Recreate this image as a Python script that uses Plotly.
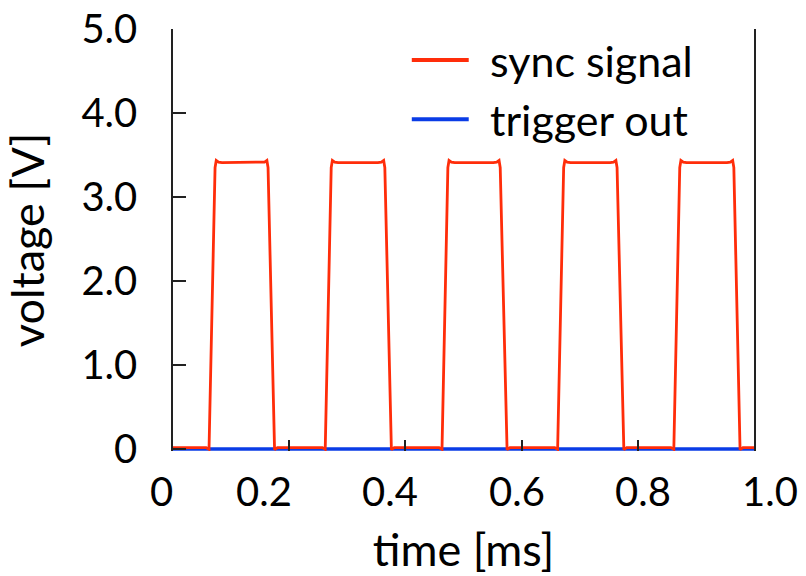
import plotly.graph_objects as go

# --- data ---
sync_time = [
    0.000, 0.057, 0.062, 0.0724, 0.0744, 0.0784, 0.0844,
    0.1516, 0.1576, 0.1616, 0.1636, 0.1748, 0.1798,
    0.257, 0.262, 0.2723, 0.2743, 0.2783, 0.2843,
    0.3526, 0.3586, 0.3626, 0.3646, 0.3759, 0.3809,
    0.458, 0.463, 0.4731, 0.4751, 0.4791, 0.4851,
    0.5512, 0.5572, 0.5612, 0.5632, 0.5750, 0.5800,
    0.657, 0.662, 0.6724, 0.6744, 0.6784, 0.6844,
    0.7523, 0.7583, 0.7623, 0.7643, 0.7760, 0.7810,
    0.857, 0.862, 0.8722, 0.8742, 0.8782, 0.8842,
    0.9533, 0.9593, 0.9633, 0.9653, 0.9760, 0.9810,
    1.000,
]
sync_volt = [
    0.015, 0.015, -0.005, 3.35, 3.435, 3.415, 3.41,
    3.41, 3.415, 3.435, 3.35, -0.01, 0.015,
    0.015, -0.005, 3.35, 3.435, 3.415, 3.41,
    3.41, 3.415, 3.435, 3.35, -0.01, 0.015,
    0.015, -0.005, 3.35, 3.435, 3.415, 3.41,
    3.41, 3.415, 3.435, 3.35, -0.01, 0.015,
    0.015, -0.005, 3.35, 3.435, 3.415, 3.41,
    3.41, 3.415, 3.435, 3.35, -0.01, 0.015,
    0.015, -0.005, 3.35, 3.435, 3.415, 3.41,
    3.41, 3.415, 3.435, 3.35, -0.01, 0.015,
    0.015,
]
trigger_time = [0.0, 1.0]
trigger_volt = [0.0, 0.0]

x_ticks = [0, 0.2, 0.4, 0.6, 0.8, 1.0]
x_labels = ["0", "0.2", "0.4", "0.6", "0.8", "1.0"]
y_ticks = [0, 1, 2, 3, 4, 5]
y_labels = ["0", "1.0", "2.0", "3.0", "4.0", "5.0"]

series_names = ["sync signal", "trigger out"]
RED = "#ff2d0a"
BLUE = "#0a3ce6"
FONT = "Lato"

# style: horizontal pixel offsets of the x tick labels relative to their ticks
x_label_shift = [-12, -25, -15, -5, 5, 16]

fig = go.Figure()
fig.add_trace(go.Scatter(x=trigger_time, y=trigger_volt, mode="lines",
                         line=dict(color=BLUE, width=3.5), name=series_names[1],
                         showlegend=False))
fig.add_trace(go.Scatter(x=sync_time, y=sync_volt, mode="lines",
                         line=dict(color=RED, width=2.8), name=series_names[0],
                         showlegend=False))

# x tick labels (placed as text at their ticks)
for v, lab, sh in zip(x_ticks, x_labels, x_label_shift):
    fig.add_annotation(xref="x", yref="paper", x=v, y=0, text=lab,
                       showarrow=False, xanchor="center", yanchor="middle",
                       xshift=sh, yshift=-40,
                       font=dict(size=40, color="black", family=FONT))

# manual legend (line samples + labels)
legend_rows = [(0.9265, RED, series_names[0]), (0.786, BLUE, series_names[1])]
for yy, col, txt in legend_rows:
    fig.add_shape(type="line", xref="paper", yref="paper",
                  x0=0.411, x1=0.509, y0=yy, y1=yy,
                  line=dict(color=col, width=4))
    fig.add_annotation(xref="paper", yref="paper", x=0.543, y=yy,
                       text=txt, showarrow=False, xanchor="left", yanchor="middle",
                       font=dict(size=43, color="black", family=FONT))

fig.update_layout(
    width=806, height=576,
    margin=dict(l=173, r=52, t=29, b=125, autoexpand=False),
    plot_bgcolor="white", paper_bgcolor="white",
    font=dict(family=FONT, size=40, color="black"),
    xaxis=dict(range=[0, 1], tickvals=x_ticks, ticktext=x_labels,
               showticklabels=False,
               ticks="inside", ticklen=11, tickwidth=1.5, tickcolor="#222",
               showline=False, showgrid=False, zeroline=False,
               automargin=False,
               title=dict(text="time [ms]", font=dict(size=45), standoff=89)),
    yaxis=dict(range=[-0.025, 5.0], tickvals=y_ticks, ticktext=y_labels,
               ticks="inside", ticklen=13, tickwidth=1.5, tickcolor="#222",
               showline=True, linecolor="#222", linewidth=1.5, mirror=True,
               showgrid=False, zeroline=False,
               automargin=False, ticklabelstandoff=26,
               title=dict(text="voltage [V]", font=dict(size=45), standoff=38),
               tickfont=dict(size=40)),
)

fig.write_html("out.html")
